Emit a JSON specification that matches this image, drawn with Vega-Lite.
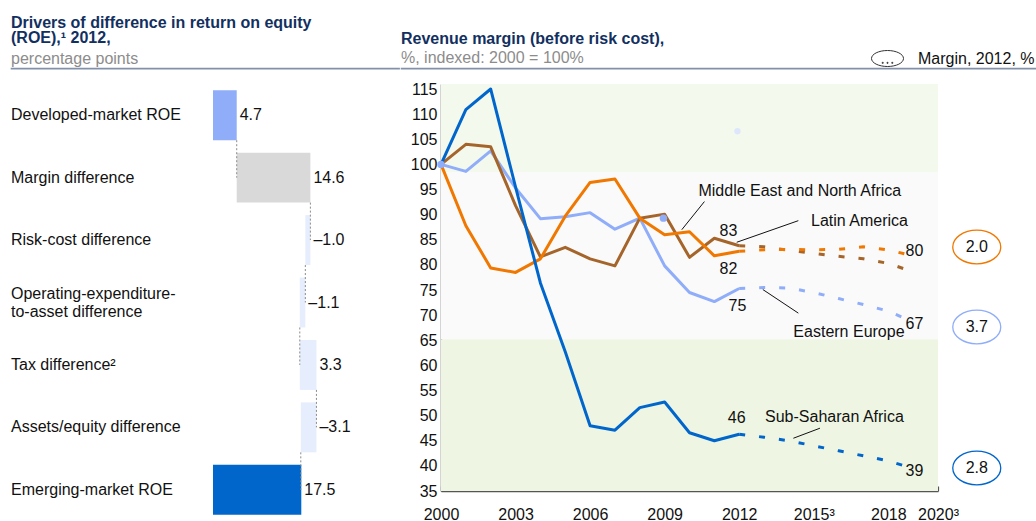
{
  "$schema": "https://vega.github.io/schema/vega-lite/v6.json",
  "padding": {"left": 10, "top": 14, "right": 0, "bottom": 0},
  "background": "white",
  "config": {
    "font": "Liberation Sans",
    "view": {"stroke": null},
    "axis": {"labelFont": "Liberation Sans", "labelFontSize": 16, "labelColor": "#111111", "grid": false, "labelOverlap": false},
    "title": {"font": "Liberation Sans", "subtitleFont": "Liberation Sans"},
    "text": {"font": "Liberation Sans", "fontSize": 16, "color": "#111111"}
  },
  "spacing": 10,
  "datasets": {
    "wf": [
      {"cat": "Developed-market ROE", "lo": 0, "hi": 4.7, "label": "4.7", "kind": "dev", "conn": 4.7},
      {"cat": "Margin difference", "lo": 4.7, "hi": 19.3, "label": "14.6", "kind": "margin", "conn": 19.3},
      {"cat": "Risk-cost difference", "lo": 18.3, "hi": 19.3, "label": "–1.0", "kind": "delta", "conn": 18.3},
      {"cat": "Operating-expenditure-\nto-asset difference", "lo": 17.2, "hi": 18.3, "label": "–1.1", "kind": "delta", "conn": 17.2},
      {"cat": "Tax difference²", "lo": 17.2, "hi": 20.5, "label": "3.3", "kind": "delta", "conn": 20.5},
      {"cat": "Assets/equity difference", "lo": 17.4, "hi": 20.5, "label": "–3.1", "kind": "delta", "conn": 17.4},
      {"cat": "Emerging-market ROE", "lo": 0, "hi": 17.5, "label": "17.5", "kind": "em", "conn": null}
    ],
    "bands": [
      {"band": "top", "x0": 2000, "x1": 2020, "y0": 98.5, "y1": 116},
      {"band": "mid", "x0": 2000, "x1": 2020, "y0": 65.2, "y1": 98.5},
      {"band": "bottom", "x0": 2000, "x1": 2020, "y0": 35, "y1": 65.2}
    ],
    "lines": [
      {"s": "EE", "p": "a", "year": 2000, "v": 100},
      {"s": "EE", "p": "a", "year": 2001, "v": 98.6},
      {"s": "EE", "p": "a", "year": 2002, "v": 102.7},
      {"s": "EE", "p": "a", "year": 2003, "v": 95.3},
      {"s": "EE", "p": "a", "year": 2004, "v": 89.2},
      {"s": "EE", "p": "a", "year": 2005, "v": 89.6},
      {"s": "EE", "p": "a", "year": 2006, "v": 90.4},
      {"s": "EE", "p": "a", "year": 2007, "v": 87.1},
      {"s": "EE", "p": "a", "year": 2008, "v": 89.3},
      {"s": "EE", "p": "a", "year": 2009, "v": 79.8},
      {"s": "EE", "p": "a", "year": 2010, "v": 74.5},
      {"s": "EE", "p": "a", "year": 2011, "v": 72.7},
      {"s": "EE", "p": "a", "year": 2012, "v": 75.3},
      {"s": "EE", "p": "f", "year": 2012, "v": 75.3},
      {"s": "EE", "p": "f", "year": 2013, "v": 75.5},
      {"s": "EE", "p": "f", "year": 2014, "v": 75.4},
      {"s": "EE", "p": "f", "year": 2015, "v": 74.5},
      {"s": "EE", "p": "f", "year": 2016, "v": 73.3},
      {"s": "EE", "p": "f", "year": 2017, "v": 72.1},
      {"s": "EE", "p": "f", "year": 2018, "v": 70.8},
      {"s": "EE", "p": "f", "year": 2018.65, "v": 69.4},
      {"s": "MENA", "p": "a", "year": 2000, "v": 100},
      {"s": "MENA", "p": "a", "year": 2001, "v": 104},
      {"s": "MENA", "p": "a", "year": 2002, "v": 103.5},
      {"s": "MENA", "p": "a", "year": 2003, "v": 91.8},
      {"s": "MENA", "p": "a", "year": 2004, "v": 81.6},
      {"s": "MENA", "p": "a", "year": 2005, "v": 83.5},
      {"s": "MENA", "p": "a", "year": 2006, "v": 81.2},
      {"s": "MENA", "p": "a", "year": 2007, "v": 79.8},
      {"s": "MENA", "p": "a", "year": 2008, "v": 89.3},
      {"s": "MENA", "p": "a", "year": 2009, "v": 90.1},
      {"s": "MENA", "p": "a", "year": 2010, "v": 81.5},
      {"s": "MENA", "p": "a", "year": 2011, "v": 85.3},
      {"s": "MENA", "p": "a", "year": 2012, "v": 83.8},
      {"s": "MENA", "p": "f", "year": 2012, "v": 83.8},
      {"s": "MENA", "p": "f", "year": 2013, "v": 83.6},
      {"s": "MENA", "p": "f", "year": 2014, "v": 82.9},
      {"s": "MENA", "p": "f", "year": 2015, "v": 82.3},
      {"s": "MENA", "p": "f", "year": 2016, "v": 81.7},
      {"s": "MENA", "p": "f", "year": 2017, "v": 81.2},
      {"s": "MENA", "p": "f", "year": 2018, "v": 80.3},
      {"s": "MENA", "p": "f", "year": 2018.65, "v": 79.2},
      {"s": "LatAm", "p": "a", "year": 2000, "v": 100},
      {"s": "LatAm", "p": "a", "year": 2001, "v": 87.8},
      {"s": "LatAm", "p": "a", "year": 2002, "v": 79.4},
      {"s": "LatAm", "p": "a", "year": 2003, "v": 78.5},
      {"s": "LatAm", "p": "a", "year": 2004, "v": 81.2},
      {"s": "LatAm", "p": "a", "year": 2005, "v": 89.7},
      {"s": "LatAm", "p": "a", "year": 2006, "v": 96.4},
      {"s": "LatAm", "p": "a", "year": 2007, "v": 97.1},
      {"s": "LatAm", "p": "a", "year": 2008, "v": 89.3},
      {"s": "LatAm", "p": "a", "year": 2009, "v": 86.0},
      {"s": "LatAm", "p": "a", "year": 2010, "v": 86.6},
      {"s": "LatAm", "p": "a", "year": 2011, "v": 81.8},
      {"s": "LatAm", "p": "a", "year": 2012, "v": 82.7},
      {"s": "LatAm", "p": "f", "year": 2012, "v": 82.7},
      {"s": "LatAm", "p": "f", "year": 2013, "v": 83.0},
      {"s": "LatAm", "p": "f", "year": 2014, "v": 83.1},
      {"s": "LatAm", "p": "f", "year": 2015, "v": 83.0},
      {"s": "LatAm", "p": "f", "year": 2016, "v": 83.1},
      {"s": "LatAm", "p": "f", "year": 2017, "v": 83.6},
      {"s": "LatAm", "p": "f", "year": 2018, "v": 83.0},
      {"s": "LatAm", "p": "f", "year": 2018.65, "v": 82.2},
      {"s": "SSA", "p": "a", "year": 2000, "v": 100},
      {"s": "SSA", "p": "a", "year": 2001, "v": 110.9},
      {"s": "SSA", "p": "a", "year": 2002, "v": 115},
      {"s": "SSA", "p": "a", "year": 2003, "v": 95.5},
      {"s": "SSA", "p": "a", "year": 2004, "v": 76.4},
      {"s": "SSA", "p": "a", "year": 2005, "v": 62.7},
      {"s": "SSA", "p": "a", "year": 2006, "v": 48.0},
      {"s": "SSA", "p": "a", "year": 2007, "v": 47.1},
      {"s": "SSA", "p": "a", "year": 2008, "v": 51.6},
      {"s": "SSA", "p": "a", "year": 2009, "v": 52.7},
      {"s": "SSA", "p": "a", "year": 2010, "v": 46.6},
      {"s": "SSA", "p": "a", "year": 2011, "v": 45.0},
      {"s": "SSA", "p": "a", "year": 2012, "v": 46.3},
      {"s": "SSA", "p": "f", "year": 2012, "v": 46.3},
      {"s": "SSA", "p": "f", "year": 2013, "v": 45.7},
      {"s": "SSA", "p": "f", "year": 2014, "v": 45.0},
      {"s": "SSA", "p": "f", "year": 2015, "v": 44.0},
      {"s": "SSA", "p": "f", "year": 2016, "v": 43.0},
      {"s": "SSA", "p": "f", "year": 2017, "v": 42.0},
      {"s": "SSA", "p": "f", "year": 2018, "v": 41.0},
      {"s": "SSA", "p": "f", "year": 2018.65, "v": 40.0}
    ],
    "dots": [
      {"k": "ee", "year": 2000, "v": 100},
      {"k": "ee", "year": 2008.95, "v": 89.3},
      {"k": "pale", "year": 2011.93, "v": 106.6}
    ],
    "clabels": [
      {"t": "83", "year": 2011.57, "v": 86.8},
      {"t": "82", "year": 2011.57, "v": 79.2},
      {"t": "75", "year": 2011.93, "v": 71.9},
      {"t": "46", "year": 2011.9, "v": 49.5},
      {"t": "80", "year": 2019.05, "v": 82.8},
      {"t": "67", "year": 2019.05, "v": 68.2},
      {"t": "39", "year": 2019.05, "v": 39.0}
    ],
    "names": [
      {"t": "Middle East and North Africa", "year": 2010.36, "v": 94.8},
      {"t": "Latin America", "year": 2014.89, "v": 88.8},
      {"t": "Eastern Europe", "year": 2014.18, "v": 66.7},
      {"t": "Sub-Saharan Africa", "year": 2013.04, "v": 49.8}
    ],
    "leaders": [
      {"xa": 2010.6, "ya": 92.6, "xb": 2009.69, "yb": 87.0},
      {"xa": 2014.38, "ya": 88.8, "xb": 2011.9, "yb": 84.5},
      {"xa": 2012.95, "ya": 75.1, "xb": 2014.38, "yb": 70.4},
      {"xa": 2015.25, "ya": 47.5, "xb": 2014.18, "yb": 45.5}
    ],
    "ellipses": [
      {"s": "LatAm", "t": "2.0", "year": 2021.56, "v": 83.56},
      {"s": "EE", "t": "3.7", "year": 2021.56, "v": 67.64},
      {"s": "SSA", "t": "2.8", "year": 2021.56, "v": 39.58}
    ]
  },
  "vconcat": [
    {
      "spacing": 0,
      "hconcat": [
        {
          "width": 388,
          "height": 0.5,
          "view": {"stroke": "#8291aa", "strokeWidth": 1.2},
          "title": {
            "text": ["Drivers of difference in return on equity", "(ROE),¹ 2012,"],
            "subtitle": "percentage points",
            "anchor": "start", "frame": "group",
            "fontSize": 16, "fontWeight": "bold", "color": "#12305f", "lineHeight": 15,
            "subtitleFontSize": 16, "subtitleColor": "#8c8c8c", "subtitlePadding": 5, "offset": 1
          },
          "data": {"values": []},
          "mark": "point",
          "encoding": {}
        },
        {
          "width": 638,
          "height": 0.5,
          "view": {"stroke": "#8291aa", "strokeWidth": 1.2},
          "title": {
            "text": "Revenue margin (before risk cost),",
            "subtitle": "%, indexed: 2000 = 100%",
            "anchor": "start", "frame": "group",
            "fontSize": 16, "fontWeight": "bold", "color": "#12305f", "lineHeight": 15,
            "subtitleFontSize": 16, "subtitleColor": "#8c8c8c", "subtitlePadding": 3, "offset": 1
          },
          "data": {"values": [{"k": "Margin, 2012, %"}]},
          "mark": {"type": "point", "opacity": 0, "filled": false},
          "encoding": {
            "shape": {
              "field": "k", "type": "nominal",
              "scale": {"range": ["M-1,0A1,0.5,0,1,1,1,0A1,0.5,0,1,1,-1,0Z M-0.33,0.24h0.06v0.06h-0.06Z M-0.03,0.24h0.06v0.06h-0.06Z M0.27,0.24h0.06v0.06h-0.06Z"]},
              "legend": {
                "orient": "none", "legendX": 860, "legendY": -26, "title": null, "padding": 0,
                "symbolSize": 1024, "symbolOpacity": 1, "symbolStrokeColor": "#333333", "symbolStrokeWidth": 1,
                "symbolFillColor": "transparent", "labelFontSize": 16, "labelColor": "#111111",
                "labelOffset": 14, "labelLimit": 300, "labelFont": "Liberation Sans"
              }
            }
          }
        }
      ]
    },
    {
      "spacing": 59,
      "hconcat": [
        {
          "width": 313,
          "height": 437,
          "data": {"name": "wf"},
          "encoding": {
            "y": {
              "field": "cat", "type": "nominal", "sort": null, "title": null,
              "scale": {"paddingInner": 0.2, "paddingOuter": 0.1},
              "axis": null
            }
          },
          "layer": [
            {
              "mark": {"type": "bar"},
              "encoding": {
                "x": {"field": "lo", "type": "quantitative", "title": null, "scale": {"domain": [-40.04, 22], "nice": false, "zero": false}, "axis": null},
                "x2": {"field": "hi"},
                "color": {
                  "field": "kind", "type": "nominal", "legend": null,
                  "scale": {"domain": ["dev", "margin", "delta", "em"], "range": ["#8fadf9", "#d9d9d9", "#e6edfd", "#0066cc"]}
                }
              }
            },
            {
              "mark": {"type": "rule", "color": "#555555", "strokeWidth": 1.5},
              "encoding": {
                "x": {"datum": 0, "type": "quantitative"}
              }
            },
            {
              "mark": {"type": "rule", "color": "#8a8a8a", "strokeDash": [2, 2], "strokeWidth": 1, "y2Offset": 62.4},
              "encoding": {
                "x": {"field": "conn", "type": "quantitative"},
                "y": {"field": "cat", "type": "nominal", "sort": null, "bandPosition": 1},
                "y2": {"field": "cat"}
              }
            },
            {
              "mark": {"type": "text", "align": "left", "baseline": "middle", "dx": 3, "fontSize": 16, "color": "#111111"},
              "encoding": {
                "x": {"field": "hi", "type": "quantitative"},
                "text": {"field": "label"}
              }
            },
            {
              "transform": [{"filter": "indexof(datum.cat, '\\n') < 0"}],
              "mark": {"type": "text", "align": "left", "baseline": "middle", "fontSize": 16, "color": "#111111"},
              "encoding": {
                "x": {"datum": -40.04, "type": "quantitative"},
                "text": {"field": "cat"}
              }
            },
            {
              "transform": [{"filter": "indexof(datum.cat, '\\n') >= 0"}],
              "mark": {"type": "text", "align": "left", "baseline": "middle", "fontSize": 16, "color": "#111111", "lineBreak": "\n", "lineHeight": 18, "dy": -9},
              "encoding": {
                "x": {"datum": -40.04, "type": "quantitative"},
                "text": {"field": "cat"}
              }
            }
          ]
        },
        {
          "width": 497,
          "height": 407,
          "layer": [
            {
              "data": {"name": "bands"},
              "mark": {"type": "rect"},
              "encoding": {
                "x": {
                  "field": "x0", "type": "quantitative", "title": null,
                  "scale": {"domain": [2000, 2020], "nice": false, "zero": false},
                  "axis": {
                    "values": [2000, 2001, 2002, 2003, 2004, 2005, 2006, 2007, 2008, 2009, 2010, 2011, 2012, 2013, 2014, 2015, 2016, 2017, 2018, 2019, 2020],
                    "tickCount": 100,
                    "format": "d", "labelOverlap": false, "labelFlush": false,
                    "labelExpr": "datum.value == 2015 || datum.value == 2020 ? datum.label + '³' : (indexof([2000, 2003, 2006, 2009, 2012, 2018], datum.value) >= 0 ? datum.label : '')",
                    "domainColor": "#555555", "domainWidth": 1.5, "tickColor": "#555555", "tickWidth": 1.2,
                    "tickSize": -5, "labelPadding": 20, "labelFontSize": 16, "labelColor": "#111111"
                  }
                },
                "x2": {"field": "x1"},
                "y": {
                  "field": "y0", "type": "quantitative", "title": null,
                  "scale": {"domain": [35, 116], "nice": false, "zero": false},
                  "axis": {
                    "values": [35, 40, 45, 50, 55, 60, 65, 70, 75, 80, 85, 90, 95, 100, 105, 110, 115],
                    "tickCount": 100,
                    "ticks": false, "domainColor": "#555555", "domainWidth": 1.5, "labelOverlap": false,
                    "labelPadding": 4, "labelFontSize": 16, "labelColor": "#111111"
                  }
                },
                "y2": {"field": "y1"},
                "fill": {
                  "field": "band", "type": "nominal", "legend": null,
                  "scale": {"domain": ["top", "mid", "bottom"], "range": ["#f4f9ee", "#fafafa", "#eef6e3"]}
                }
              }
            },
            {
              "data": {"name": "lines"},
              "transform": [{"filter": "datum.p == 'a'"}],
              "mark": {"type": "line", "strokeWidth": 3, "strokeJoin": "round"},
              "encoding": {
                "x": {"field": "year", "type": "quantitative", "title": null},
                "y": {"field": "v", "type": "quantitative", "title": null},
                "stroke": {
                  "field": "s", "type": "nominal", "legend": null,
                  "scale": {"domain": ["EE", "MENA", "LatAm", "SSA"], "range": ["#8fadf9", "#a5652a", "#f07800", "#0066cc"]}
                },
                "order": {"field": "year"}
              }
            },
            {
              "data": {"name": "lines"},
              "transform": [{"filter": "datum.p == 'f'"}],
              "mark": {"type": "line", "strokeWidth": 3, "strokeDash": [6, 14]},
              "encoding": {
                "x": {"field": "year", "type": "quantitative", "title": null},
                "y": {"field": "v", "type": "quantitative", "title": null},
                "stroke": {"field": "s", "type": "nominal", "legend": null},
                "order": {"field": "year"}
              }
            },
            {
              "data": {"name": "dots"},
              "transform": [{"filter": "datum.k == 'ee'"}],
              "mark": {"type": "circle", "size": 55, "color": "#8fadf9", "opacity": 1},
              "encoding": {
                "x": {"field": "year", "type": "quantitative", "title": null},
                "y": {"field": "v", "type": "quantitative", "title": null}
              }
            },
            {
              "data": {"name": "dots"},
              "transform": [{"filter": "datum.k == 'pale'"}],
              "mark": {"type": "circle", "size": 40, "color": "#dde7fb", "opacity": 1},
              "encoding": {
                "x": {"field": "year", "type": "quantitative", "title": null},
                "y": {"field": "v", "type": "quantitative", "title": null}
              }
            },
            {
              "data": {"name": "leaders"},
              "mark": {"type": "rule", "color": "#111111", "strokeWidth": 1},
              "encoding": {
                "x": {"field": "xa", "type": "quantitative", "title": null},
                "y": {"field": "ya", "type": "quantitative", "title": null},
                "x2": {"field": "xb"},
                "y2": {"field": "yb"}
              }
            },
            {
              "data": {"name": "clabels"},
              "mark": {"type": "text", "align": "center", "baseline": "middle", "fontSize": 16, "color": "#111111"},
              "encoding": {
                "x": {"field": "year", "type": "quantitative", "title": null},
                "y": {"field": "v", "type": "quantitative", "title": null},
                "text": {"field": "t"}
              }
            },
            {
              "data": {"name": "names"},
              "mark": {"type": "text", "align": "left", "baseline": "middle", "fontSize": 16, "color": "#111111"},
              "encoding": {
                "x": {"field": "year", "type": "quantitative", "title": null},
                "y": {"field": "v", "type": "quantitative", "title": null},
                "text": {"field": "t"}
              }
            },
            {
              "data": {"name": "ellipses"},
              "mark": {"type": "point", "filled": false, "size": 2304, "strokeWidth": 1.3, "opacity": 1, "shape": "M-1,0A1,0.7,0,1,1,1,0A1,0.7,0,1,1,-1,0Z"},
              "encoding": {
                "x": {"field": "year", "type": "quantitative", "title": null},
                "y": {"field": "v", "type": "quantitative", "title": null},
                "stroke": {"field": "s", "type": "nominal", "legend": null}
              }
            },
            {
              "data": {"name": "ellipses"},
              "mark": {"type": "text", "align": "center", "baseline": "middle", "fontSize": 16, "color": "#111111"},
              "encoding": {
                "x": {"field": "year", "type": "quantitative", "title": null},
                "y": {"field": "v", "type": "quantitative", "title": null},
                "text": {"field": "t"}
              }
            }
          ]
        }
      ]
    }
  ]
}
